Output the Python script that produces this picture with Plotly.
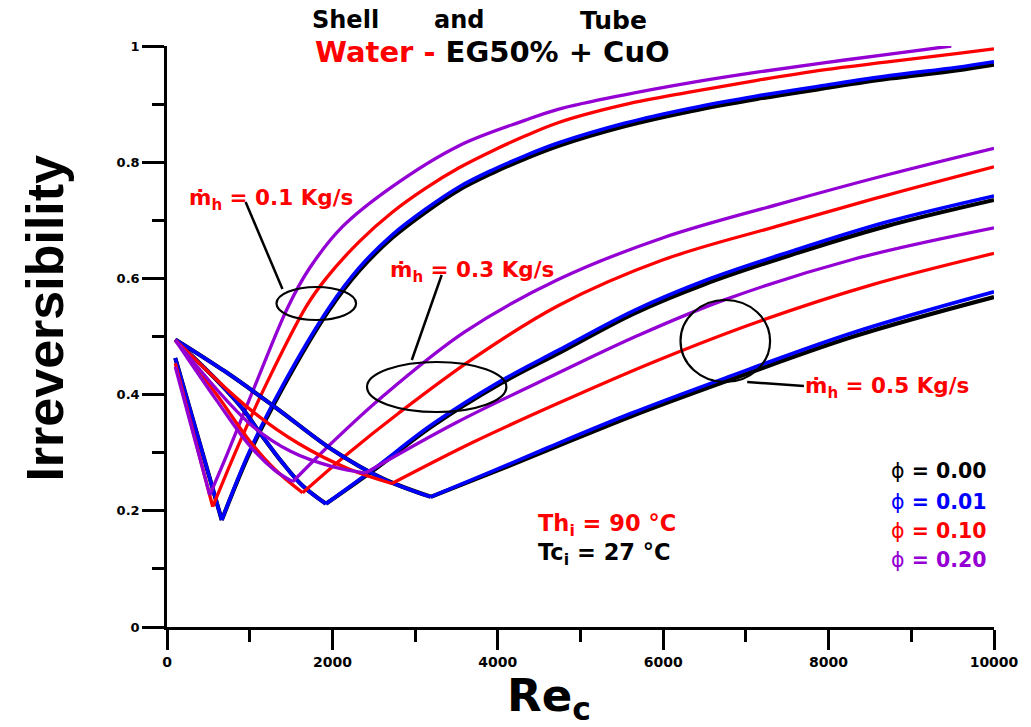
import plotly.graph_objects as go

# ---------------- data ----------------
# m_h = 0.1 kg/s
x01_k = [100, 662, 1000, 1400, 1961, 2322, 2724, 3125, 3526, 3927, 4328, 4729, 5532, 6334, 7136, 7939, 8741, 9543, 10000]
y01_k = [0.463, 0.184, 0.300, 0.412, 0.546, 0.613, 0.670, 0.714, 0.752, 0.781, 0.806, 0.828, 0.862, 0.888, 0.909, 0.927, 0.944, 0.958, 0.968]
x01_b = x01_k
y01_b = [0.463, 0.184, 0.303, 0.416, 0.550, 0.618, 0.675, 0.719, 0.757, 0.786, 0.811, 0.833, 0.867, 0.893, 0.914, 0.932, 0.949, 0.963, 0.973]
x01_r = [100, 553, 855, 1200, 1681, 1924, 2322, 2724, 3125, 3526, 3927, 4328, 4729, 5532, 6334, 7136, 7939, 8741, 9543, 10000]
y01_r = [0.454, 0.207, 0.310, 0.418, 0.551, 0.600, 0.663, 0.714, 0.755, 0.790, 0.819, 0.845, 0.868, 0.899, 0.921, 0.941, 0.959, 0.973, 0.987, 0.995]
x01_p = [100, 517, 735, 1100, 1460, 1721, 2122, 2724, 3526, 4328, 4729, 5532, 6334, 7136, 7939, 8741, 9483]
y01_p = [0.448, 0.227, 0.300, 0.428, 0.550, 0.617, 0.689, 0.758, 0.828, 0.872, 0.891, 0.916, 0.937, 0.955, 0.971, 0.986, 1.000]

# m_h = 0.3 kg/s
x03_k = [100, 600, 918, 1119, 1400, 1640, 1922, 2500, 3200, 4045, 4729, 5652, 6500, 7536, 8700, 10000]
y03_k = [0.494, 0.425, 0.375, 0.335, 0.282, 0.243, 0.212, 0.270, 0.345, 0.420, 0.471, 0.540, 0.590, 0.640, 0.690, 0.735]
x03_b = x03_k
y03_b = [0.494, 0.425, 0.375, 0.335, 0.282, 0.243, 0.212, 0.272, 0.348, 0.424, 0.476, 0.545, 0.596, 0.646, 0.697, 0.742]
x03_r = [100, 600, 1000, 1300, 1640, 2200, 2800, 3700, 4729, 6000, 7380, 8700, 10000]
y03_r = [0.494, 0.400, 0.320, 0.272, 0.231, 0.300, 0.368, 0.462, 0.553, 0.632, 0.690, 0.743, 0.792]
x03_p = [100, 600, 1000, 1300, 1520, 2000, 2600, 3600, 4729, 6000, 7380, 8700, 10000]
y03_p = [0.494, 0.390, 0.312, 0.270, 0.250, 0.318, 0.396, 0.508, 0.598, 0.670, 0.727, 0.778, 0.824]

# m_h = 0.5 kg/s
x05_k = [100, 700, 1320, 2000, 2600, 3190, 3900, 4610, 5600, 6740, 8300, 10000]
y05_k = [0.495, 0.440, 0.377, 0.305, 0.256, 0.224, 0.264, 0.305, 0.362, 0.422, 0.500, 0.568]
x05_b = x05_k
y05_b = [0.495, 0.440, 0.377, 0.305, 0.256, 0.224, 0.266, 0.309, 0.367, 0.428, 0.507, 0.577]
x05_r = [100, 1000, 1600, 2200, 2720, 3700, 4729, 5900, 7140, 8500, 10000]
y05_r = [0.494, 0.375, 0.315, 0.272, 0.247, 0.318, 0.385, 0.457, 0.525, 0.588, 0.643]
x05_p = [100, 1000, 1500, 2000, 2400, 3500, 4729, 5700, 6740, 8300, 10000]
y05_p = [0.494, 0.350, 0.302, 0.276, 0.265, 0.352, 0.437, 0.502, 0.563, 0.633, 0.687]

x_ticks = [0, 2000, 4000, 6000, 8000, 10000]
x_ticktext = ["0", "2000", "4000", "6000", "8000", "10000"]
y_ticks = [0, 0.2, 0.4, 0.6, 0.8, 1.0]
y_ticktext = ["0", "0.2", "0.4", "0.6", "0.8", "1"]

phi_labels = ["0.00", "0.01", "0.10", "0.20"]
flow_labels = ["0.1", "0.3", "0.5"]

# ---------------- styles ----------------
BLACK, BLUE, RED, PURPLE = "#000000", "#0000FF", "#FF0000", "#9400D3"
colors = [BLACK, BLUE, RED, PURPLE]
widths = [4.2, 3.6, 3.3, 3.3]
FONT = "DejaVu Sans, Liberation Sans, Arial"

series = [
    [(x01_k, y01_k), (x01_b, y01_b), (x01_r, y01_r), (x01_p, y01_p)],
    [(x03_k, y03_k), (x03_b, y03_b), (x03_r, y03_r), (x03_p, y03_p)],
    [(x05_k, y05_k), (x05_b, y05_b), (x05_r, y05_r), (x05_p, y05_p)],
]

fig = go.Figure()
for group in series:
    for (xs, ys), c, w in zip(group, colors, widths):
        i = ys.index(min(ys))
        for xa, ya in ((xs[:i + 1], ys[:i + 1]), (xs[i:], ys[i:])):
            fig.add_trace(go.Scatter(
                x=xa, y=ya, mode="lines",
                line=dict(color=c, width=w, shape="spline", smoothing=1.0),
                showlegend=False, hoverinfo="skip"))

# pixel helpers for layout placement
L, R, T, B = 167, 998, 46, 627
def px_x(p):
    return (p - L) / (R - L)
def px_y(p):
    return (B - p) / (B - T)

ann = []
def add_text(text, px, py, size, color="black", xanchor="center", angle=0, family=FONT, weight="bold"):
    ann.append(dict(text=text, x=px_x(px), y=px_y(py), xref="paper", yref="paper",
                    showarrow=False, xanchor=xanchor, yanchor="middle", textangle=angle,
                    font=dict(family=family, size=size, color=color, weight=weight)))

# titles
add_text("Shell", 346, 20, 24)
add_text("and", 460, 20, 24)
add_text("Tube", 616, 20, 25)
add_text("<span style='color:#FF0000'>Water - </span>EG50% + CuO", 494, 52, 29)

# axis titles
add_text("Irreversibility", 44, 318, 52, angle=-90, family="Liberation Sans, Arial, sans-serif")
add_text("Re<sub>c</sub>", 551, 698, 45)

# flow rate labels
add_text("ṁ<sub>h</sub> = " + flow_labels[0] + " Kg/s", 187, 199, 21.5, RED, xanchor="left")
add_text("ṁ<sub>h</sub> = " + flow_labels[1] + " Kg/s", 389, 271, 21.5, RED, xanchor="left")
add_text("ṁ<sub>h</sub> = " + flow_labels[2] + " Kg/s", 806, 387, 21.5, RED, xanchor="left")

# temperatures
add_text("Th<sub>i</sub> = 90 °C", 538, 525, 22.5, RED, xanchor="left")
add_text("Tc<sub>i</sub> = 27 °C", 538, 554, 22.5, BLACK, xanchor="left")

# phi labels
for lab, c, py in zip(phi_labels, colors, [471, 502, 531, 560]):
    ann.append(dict(text="ϕ<b> = " + lab + "</b>", x=px_x(892), y=px_y(py), xref="paper", yref="paper",
                    showarrow=False, xanchor="left", yanchor="middle",
                    font=dict(family=FONT, size=20.5, color=c)))

shapes = []
def ellipse(x0, y0, x1, y1):
    shapes.append(dict(type="circle", xref="paper", yref="paper",
                       x0=px_x(x0), x1=px_x(x1), y0=px_y(y1), y1=px_y(y0),
                       line=dict(color="black", width=2.2)))
def seg(x0, y0, x1, y1):
    shapes.append(dict(type="line", xref="paper", yref="paper",
                       x0=px_x(x0), x1=px_x(x1), y0=px_y(y0), y1=px_y(y1),
                       line=dict(color="black", width=2.5)))

ellipse(277, 287, 357, 320)
seg(246, 202, 283, 289)
ellipse(368, 362, 508, 412)
seg(443, 275, 413, 360)
ellipse(683, 300, 773, 382)
seg(750, 382, 807, 386)

fig.update_layout(
    width=1031, height=727,
    margin=dict(l=L, r=1031 - R, t=T, b=727 - B),
    paper_bgcolor="white", plot_bgcolor="white",
    annotations=ann, shapes=shapes,
    xaxis=dict(range=[0, 10000], tickvals=x_ticks, ticktext=x_ticktext,
               showline=True, linecolor="black", linewidth=2.5,
               ticks="outside", ticklen=20, tickwidth=2.5, tickcolor="black",
               minor=dict(dtick=1000, ticks="outside", ticklen=12, tickwidth=2.5, tickcolor="black"),
               showgrid=False, zeroline=False,
               tickfont=dict(family=FONT, size=14, color="black", weight="bold")),
    yaxis=dict(range=[0, 1], tickvals=y_ticks, ticktext=y_ticktext,
               showline=True, linecolor="black", linewidth=2.5,
               ticks="outside", ticklen=22, tickwidth=2.5, tickcolor="black",
               minor=dict(dtick=0.1, ticks="outside", ticklen=12, tickwidth=2.5, tickcolor="black"),
               showgrid=False, zeroline=False,
               tickfont=dict(family=FONT, size=13, color="black", weight="bold")),
)

fig.write_html("out.html")
